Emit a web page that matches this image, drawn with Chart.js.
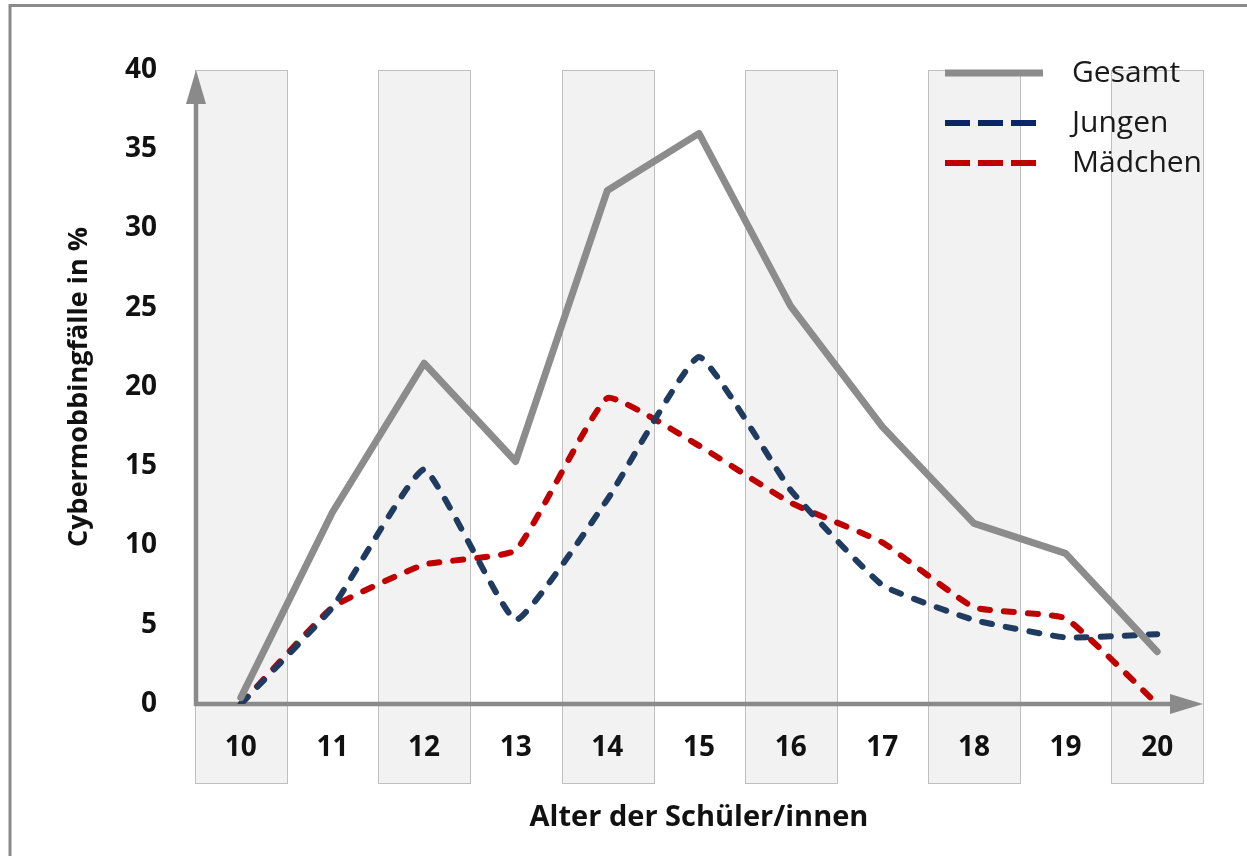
<!DOCTYPE html>
<html>
<head>
<meta charset="utf-8">
<script src="https://cdn.jsdelivr.net/npm/chart.js@4/dist/chart.umd.min.js"></script>
<style>
  html, body { margin: 0; padding: 0; background: #fff; }
  #wrap { width: 1247px; height: 856px; position: relative; }
</style>
</head>
<body>
<div id="wrap"><canvas id="cyberChart"></canvas></div>
<script>
const ages = ['10', '11', '12', '13', '14', '15', '16', '17', '18', '19', '20'];
const gesamt = [0.4, 12.1, 21.5, 15.3, 32.4, 36.0, 25.1, 17.5, 11.4, 9.5, 3.3];
const jungen = [0, 6.1, 14.8, 5.3, 12.9, 21.9, 13.5, 7.5, 5.3, 4.2, 4.4];
const maedchen = [0, 6.1, 8.8, 9.7, 19.3, 16.3, 12.7, 10.2, 6.1, 5.4, 0];
const seriesNames = ['Gesamt', 'Jungen', 'Mädchen'];
const seriesColors = ['#8c8c8c', '#1f3b60', '#c00000'];
const legendColors = ['#8c8c8c', '#0a2664', '#c00000'];

const FONT = '"Open Sans", Lato, sans-serif';

const backdropPlugin = {
  id: 'backdrop',
  beforeDraw(chart) {
    const { ctx, chartArea } = chart;
    const x = chart.scales.x;
    ctx.save();
    // outer frame
    ctx.strokeStyle = '#8a8a8a';
    ctx.lineWidth = 3;
    ctx.strokeRect(10, 5.5, 1300, 900);
    // shaded bands on every second age
    const half = (x.getPixelForValue(1) - x.getPixelForValue(0)) / 2;
    ctx.fillStyle = '#f2f2f2';
    ctx.strokeStyle = '#bfbfbf';
    ctx.lineWidth = 1;
    for (let i = 0; i < ages.length; i += 2) {
      const cx = x.getPixelForValue(i);
      const left = Math.round(cx - half) + 0.5;
      const w = Math.round(half * 2);
      const h = chartArea.bottom + 79 - chartArea.top;
      ctx.fillRect(left, chartArea.top + 0.5, w, h);
      ctx.strokeRect(left, chartArea.top + 0.5, w, h);
    }
    ctx.restore();
  },
  beforeDatasetsDraw(chart) {
    const { ctx, chartArea } = chart;
    const { left, right, top, bottom } = chartArea;
    ctx.save();
    ctx.strokeStyle = '#8a8a8a';
    ctx.fillStyle = '#8a8a8a';
    ctx.lineWidth = 4.5;
    // y axis
    ctx.beginPath();
    ctx.moveTo(left + 1, bottom + 2);
    ctx.lineTo(left + 1, top + 32);
    ctx.stroke();
    ctx.beginPath();
    ctx.moveTo(left + 1, top);
    ctx.lineTo(left + 11, top + 34);
    ctx.lineTo(left - 9, top + 34);
    ctx.closePath();
    ctx.fill();
    // x axis
    ctx.beginPath();
    ctx.moveTo(left - 1, bottom);
    ctx.lineTo(right - 30, bottom);
    ctx.stroke();
    ctx.beginPath();
    ctx.moveTo(right, bottom);
    ctx.lineTo(right - 33, bottom - 10);
    ctx.lineTo(right - 33, bottom + 10);
    ctx.closePath();
    ctx.fill();
    ctx.restore();
  },
  afterDraw(chart) {
    const { ctx } = chart;
    const rows = [73, 123, 163];
    ctx.save();
    chart.data.datasets.forEach((ds, i) => {
      const y = rows[i];
      ctx.strokeStyle = legendColors[i];
      ctx.lineCap = 'butt';
      if (i === 0) {
        ctx.lineWidth = 7;
        ctx.setLineDash([]);
      } else {
        ctx.lineWidth = 6;
        ctx.setLineDash([25, 8]);
      }
      ctx.beginPath();
      ctx.moveTo(945, y);
      ctx.lineTo(i === 0 ? 1043 : 1036, y);
      ctx.stroke();
      ctx.setLineDash([]);
      ctx.fillStyle = '#1a1a1a';
      ctx.font = '30px ' + FONT;
      ctx.textBaseline = 'middle';
      ctx.textAlign = 'left';
      ctx.fillText(ds.label, 1072, y);
    });
    ctx.restore();
  }
};

new Chart(document.getElementById('cyberChart'), {
  type: 'line',
  data: {
    labels: ages,
    datasets: [
      {
        label: seriesNames[0],
        data: gesamt,
        borderColor: seriesColors[0],
        borderWidth: 7,
        tension: 0,
        pointRadius: 0,
        borderCapStyle: 'round',
        borderJoinStyle: 'round',
        fill: false
      },
      {
        label: seriesNames[1],
        data: jungen,
        borderColor: seriesColors[1],
        borderWidth: 6,
        borderDash: [10, 14],
        borderCapStyle: 'round',
        tension: 0.12,
        pointRadius: 0,
        fill: false
      },
      {
        label: seriesNames[2],
        data: maedchen,
        borderColor: seriesColors[2],
        borderWidth: 6,
        borderDash: [10, 14],
        borderCapStyle: 'round',
        tension: 0.12,
        pointRadius: 0,
        fill: false
      }
    ]
  },
  options: {
    responsive: true,
    maintainAspectRatio: false,
    animation: false,
    layout: { padding: { left: 0, top: 70, right: 44, bottom: 0 } },
    plugins: {
      legend: { display: false },
      tooltip: { enabled: false },
      title: { display: false }
    },
    scales: {
      x: {
        type: 'category',
        offset: true,
        grid: { display: false },
        border: { display: false },
        ticks: { color: '#111', padding: 19, font: { family: FONT, size: 28, weight: 'bold' } },
        title: {
          display: true,
          text: 'Alter der Schüler/innen',
          color: '#111',
          padding: { top: 0, bottom: 21 },
          font: { family: FONT, size: 29, weight: 'bold' }
        },
        afterFit(scale) { scale.height = 152; }
      },
      y: {
        min: 0,
        max: 40,
        grid: { display: false },
        border: { display: false },
        ticks: { stepSize: 5, color: '#111', padding: 30, font: { family: FONT, size: 28, weight: 'bold' } },
        title: {
          display: true,
          text: 'Cybermobbingfälle in %',
          color: '#111',
          padding: { top: 63, bottom: 0 },
          font: { family: FONT, size: 27, weight: 'bold' }
        },
        afterFit(scale) { scale.width = 195; }
      }
    }
  },
  plugins: [backdropPlugin]
});
</script>
</body>
</html>
